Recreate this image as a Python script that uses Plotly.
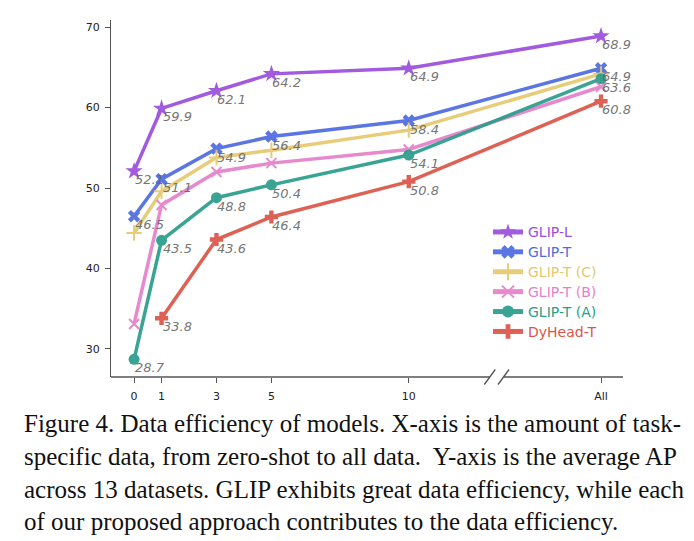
import plotly.graph_objects as go

# ---------------- data ----------------
x_ticks = [0, 1, 3, 5, 10, 17]
x_ticklabels = ["0", "1", "3", "5", "10", "All"]

series_names = ["GLIP-L", "GLIP-T", "GLIP-T (C)", "GLIP-T (B)", "GLIP-T (A)", "DyHead-T"]
glip_l_x = [0, 1, 3, 5, 10, 17]
glip_l = [52.1, 59.9, 62.1, 64.2, 64.9, 68.9]
glip_t_x = [0, 1, 3, 5, 10, 17]
glip_t = [46.5, 51.1, 54.9, 56.4, 58.4, 64.9]
glip_t_c_x = [0, 1, 3, 5, 10, 17]
glip_t_c = [44.4, 49.6, 53.8, 54.7, 57.2, 64.2]
glip_t_b_x = [0, 1, 3, 5, 10, 17]
glip_t_b = [33.1, 47.9, 52.0, 53.1, 54.8, 62.6]
glip_t_a_x = [0, 1, 3, 5, 10, 17]
glip_t_a = [28.7, 43.5, 48.8, 50.4, 54.1, 63.6]
dyhead_t_x = [1, 3, 5, 10, 17]
dyhead_t = [33.8, 43.6, 46.4, 50.8, 60.8]

labeled = {"GLIP-L", "GLIP-T", "GLIP-T (A)", "DyHead-T"}

caption_lines = [
    "Figure 4. Data efficiency of models. X-axis is the amount of task-",
    "specific data, from zero-shot to all data.  Y-axis is the average AP",
    "across 13 datasets. GLIP exhibits great data efficiency, while each",
    "of our proposed approach contributes to the data efficiency.",
]

# ---------------- styles ----------------
colors = ["#9b4ddc", "#4e6be0", "#e5c86e", "#e67fc9", "#2a9d8b", "#dc5447"]
symbols = ["star", "x", "cross-thin", "x-thin", "circle", "cross"]
msizes = [13, 11, 11, 10, 11, 11]

xs = [glip_l_x, glip_t_x, glip_t_c_x, glip_t_b_x, glip_t_a_x, dyhead_t_x]
ys = [glip_l, glip_t, glip_t_c, glip_t_b, glip_t_a, dyhead_t]

OFF = 8  # page body margin
W, H = 694 - OFF, 541 - OFF
# plot area in page pixels
L, R, T, B = 111, 623, 20, 377
XR = [-0.84, 17.8]
YR = [26.5, 70.9]

fig = go.Figure()
for name, xv, yv, c, s, ms in zip(series_names, xs, ys, colors, symbols, msizes):
    fig.add_trace(go.Scatter(
        x=xv, y=yv, mode="lines+markers",
        name=f"<span style='color:{c};font-size:14px'>{name}</span>",
        line=dict(color=c, width=3.5),
        marker=dict(symbol=s, size=ms, color=c, line=dict(color=c, width=2 if "thin" in s else 0)),
        opacity=0.92,
    ))
    if name in labeled:
        for xx, yy in zip(xv, yv):
            fig.add_annotation(x=xx, y=yy, text=f"<i>{yy:.1f}</i>", showarrow=False,
                               xanchor="left", yanchor="top", xshift=-1, yshift=1,
                               font=dict(family="DejaVu Sans", size=13, color="rgba(100,100,100,0.9)"))

def px_to_paper_x(px):
    return (px - L) / (R - L)

def px_to_paper_y(py):
    return (B - py) / (B - T)

def data_to_paper_x(xd):
    return (xd - XR[0]) / (XR[1] - XR[0])

# bottom spine with break
brk_lo, brk_hi = 12.95, 13.45
axis_col = "#555555"
fig.add_shape(type="line", xref="paper", yref="paper", x0=0, x1=data_to_paper_x(brk_lo), y0=0, y1=0,
              line=dict(color=axis_col, width=1.3))
fig.add_shape(type="line", xref="paper", yref="paper", x0=data_to_paper_x(brk_hi), x1=1, y0=0, y1=0,
              line=dict(color=axis_col, width=1.3))
for xc in (brk_lo, brk_hi):
    cx = data_to_paper_x(xc)
    dx = 5.5 / (R - L)
    dy = 7.5 / (B - T)
    fig.add_shape(type="line", xref="paper", yref="paper", x0=cx - dx, x1=cx + dx, y0=-dy, y1=dy,
                  line=dict(color=axis_col, width=1.3))

# caption
cap_y = [423, 456, 489, 521]
for line, py in zip(caption_lines, cap_y):
    fig.add_annotation(x=px_to_paper_x(22), y=px_to_paper_y(py), xref="paper", yref="paper",
                       text=line, showarrow=False, xanchor="left", yanchor="middle",
                       font=dict(family="Liberation Serif", size=25, color="#111111"))

fig.update_layout(
    width=W, height=H,
    margin=dict(l=L - OFF, r=(W + OFF) - R, t=T - OFF, b=(H + OFF) - B, pad=0),
    paper_bgcolor="white", plot_bgcolor="white",
    font=dict(family="DejaVu Sans", size=11, color="#222222"),
    showlegend=True,
    legend=dict(x=px_to_paper_x(488), y=px_to_paper_y(217), xanchor="left", yanchor="top",
                font=dict(family="DejaVu Sans", size=13), bgcolor="rgba(0,0,0,0)",
                tracegroupgap=0, itemsizing="constant"),
    xaxis=dict(range=XR, tickvals=x_ticks, ticktext=x_ticklabels, showgrid=False, zeroline=False,
               showline=False, ticks="outside", ticklen=5, tickwidth=1.2, tickcolor=axis_col,
               ticklabelstandoff=4, tickfont=dict(size=11, color="#222222")),
    yaxis=dict(range=YR, tickvals=[30, 40, 50, 60, 70], showgrid=False, zeroline=False,
               showline=True, linecolor=axis_col, linewidth=1.3, ticks="outside", ticklen=5,
               tickwidth=1.2, tickcolor=axis_col, ticklabelstandoff=3,
               tickfont=dict(size=11, color="#222222")),
)

fig.write_html("out.html")
